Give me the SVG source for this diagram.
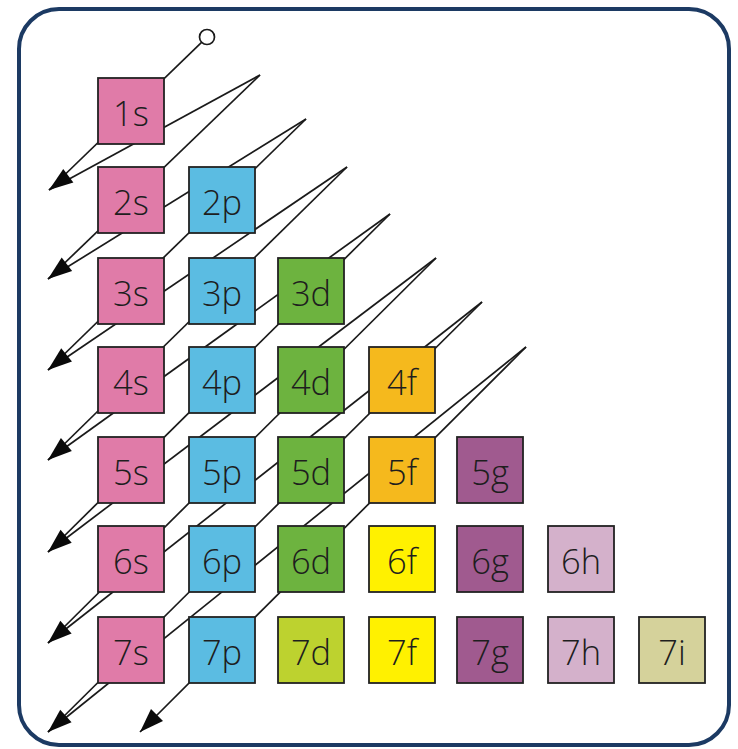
<svg xmlns="http://www.w3.org/2000/svg" xmlns:xlink="http://www.w3.org/1999/xlink" width="738" height="749" viewBox="0 0 738 749">
  <style>
    .frame { fill: #ffffff; stroke: #1c3a63; stroke-width: 4; }
    .ln { stroke: #1a1a1a; stroke-width: 1.7; fill: none; }
    .head { fill: #0a0a0a; }
    .box { stroke: #222222; stroke-width: 1.8; }
    .lbl { font-family: "Open Sans", "Noto Sans", "DejaVu Sans", sans-serif; font-weight: 300; font-size: 34.5px; fill: #1e1e1e; text-anchor: middle; }
    .s { fill: #e07ba8; }
    .p { fill: #5bbce2; }
    .d { fill: #6db33f; }
    .dy { fill: #bdd22f; }
    .f { fill: #f5b91d; }
    .fy { fill: #fff100; }
    .g { fill: #a05a8f; }
    .h { fill: #d4b1cb; }
    .i { fill: #d5d29b; }
  </style>
  <defs>
    <path id="ah" class="head" d="M0 0 L-24 -8.5 L-24 8.5 Z"/>
  </defs>

  <rect class="frame" x="19" y="9" width="710" height="736" rx="40" ry="40"/>

  <!-- diagonal filling order: diagonals ending in arrows, plus return strokes to the next start -->
  <g id="connectors">
    <circle cx="207" cy="37" r="7.5" fill="#ffffff" stroke="#1a1a1a" stroke-width="1.7"/>
    <!-- diagonals -->
    <line class="ln" x1="201.3" y1="42.6" x2="49" y2="190"/>
    <line class="ln" x1="260" y1="75" x2="48" y2="279"/>
    <line class="ln" x1="306" y1="119" x2="48" y2="370"/>
    <line class="ln" x1="347" y1="167" x2="48" y2="460"/>
    <line class="ln" x1="390" y1="214" x2="48" y2="552"/>
    <line class="ln" x1="436" y1="258" x2="48" y2="643"/>
    <line class="ln" x1="482" y1="302" x2="48" y2="732"/>
    <line class="ln" x1="526" y1="347" x2="140" y2="732"/>
    <!-- return strokes -->
    <line class="ln" x1="49" y1="190" x2="260" y2="75"/>
    <line class="ln" x1="48" y1="279" x2="306" y2="119"/>
    <line class="ln" x1="48" y1="370" x2="347" y2="167"/>
    <line class="ln" x1="48" y1="460" x2="390" y2="214"/>
    <line class="ln" x1="48" y1="552" x2="436" y2="258"/>
    <line class="ln" x1="48" y1="643" x2="482" y2="302"/>
    <line class="ln" x1="48" y1="732" x2="526" y2="347"/>
    <!-- arrowheads -->
    <use xlink:href="#ah" transform="translate(49,190) rotate(143.6)"/>
    <use xlink:href="#ah" transform="translate(48,279) rotate(142)"/>
    <use xlink:href="#ah" transform="translate(48,370) rotate(140.8)"/>
    <use xlink:href="#ah" transform="translate(48,460) rotate(140)"/>
    <use xlink:href="#ah" transform="translate(48,552) rotate(139)"/>
    <use xlink:href="#ah" transform="translate(48,643) rotate(138.5)"/>
    <use xlink:href="#ah" transform="translate(48,732) rotate(138.2)"/>
    <use xlink:href="#ah" transform="translate(140,732) rotate(135.1)"/>
  </g>

  <!-- orbitals -->
  <g id="n1s"><rect class="box s" x="98" y="78" width="66" height="66"/><text class="lbl" x="131" y="126">1s</text></g>

  <g id="n2s"><rect class="box s" x="98" y="167" width="66" height="66"/><text class="lbl" x="131" y="215">2s</text></g>
  <g id="n2p"><rect class="box p" x="189" y="167" width="66" height="66"/><text class="lbl" x="222" y="215">2p</text></g>

  <g id="n3s"><rect class="box s" x="98" y="258" width="66" height="66"/><text class="lbl" x="131" y="306">3s</text></g>
  <g id="n3p"><rect class="box p" x="189" y="258" width="66" height="66"/><text class="lbl" x="222" y="306">3p</text></g>
  <g id="n3d"><rect class="box d" x="278" y="258" width="66" height="66"/><text class="lbl" x="311" y="306">3d</text></g>

  <g id="n4s"><rect class="box s" x="98" y="347" width="66" height="66"/><text class="lbl" x="131" y="395">4s</text></g>
  <g id="n4p"><rect class="box p" x="189" y="347" width="66" height="66"/><text class="lbl" x="222" y="395">4p</text></g>
  <g id="n4d"><rect class="box d" x="278" y="347" width="66" height="66"/><text class="lbl" x="311" y="395">4d</text></g>
  <g id="n4f"><rect class="box f" x="369" y="347" width="66" height="66"/><text class="lbl" x="402" y="395">4f</text></g>

  <g id="n5s"><rect class="box s" x="98" y="437" width="66" height="66"/><text class="lbl" x="131" y="485">5s</text></g>
  <g id="n5p"><rect class="box p" x="189" y="437" width="66" height="66"/><text class="lbl" x="222" y="485">5p</text></g>
  <g id="n5d"><rect class="box d" x="278" y="437" width="66" height="66"/><text class="lbl" x="311" y="485">5d</text></g>
  <g id="n5f"><rect class="box f" x="369" y="437" width="66" height="66"/><text class="lbl" x="402" y="485">5f</text></g>
  <g id="n5g"><rect class="box g" x="457" y="437" width="66" height="66"/><text class="lbl" x="490" y="485">5g</text></g>

  <g id="n6s"><rect class="box s" x="98" y="526" width="66" height="66"/><text class="lbl" x="131" y="574">6s</text></g>
  <g id="n6p"><rect class="box p" x="189" y="526" width="66" height="66"/><text class="lbl" x="222" y="574">6p</text></g>
  <g id="n6d"><rect class="box d" x="278" y="526" width="66" height="66"/><text class="lbl" x="311" y="574">6d</text></g>
  <g id="n6f"><rect class="box fy" x="369" y="526" width="66" height="66"/><text class="lbl" x="402" y="574">6f</text></g>
  <g id="n6g"><rect class="box g" x="457" y="526" width="66" height="66"/><text class="lbl" x="490" y="574">6g</text></g>
  <g id="n6h"><rect class="box h" x="548" y="526" width="66" height="66"/><text class="lbl" x="581" y="574">6h</text></g>

  <g id="n7s"><rect class="box s" x="98" y="617" width="66" height="66"/><text class="lbl" x="131" y="665">7s</text></g>
  <g id="n7p"><rect class="box p" x="189" y="617" width="66" height="66"/><text class="lbl" x="222" y="665">7p</text></g>
  <g id="n7d"><rect class="box dy" x="278" y="617" width="66" height="66"/><text class="lbl" x="311" y="665">7d</text></g>
  <g id="n7f"><rect class="box fy" x="369" y="617" width="66" height="66"/><text class="lbl" x="402" y="665">7f</text></g>
  <g id="n7g"><rect class="box g" x="457" y="617" width="66" height="66"/><text class="lbl" x="490" y="665">7g</text></g>
  <g id="n7h"><rect class="box h" x="548" y="617" width="66" height="66"/><text class="lbl" x="581" y="665">7h</text></g>
  <g id="n7i"><rect class="box i" x="639" y="617" width="66" height="66"/><text class="lbl" x="672" y="665">7i</text></g>
</svg>
